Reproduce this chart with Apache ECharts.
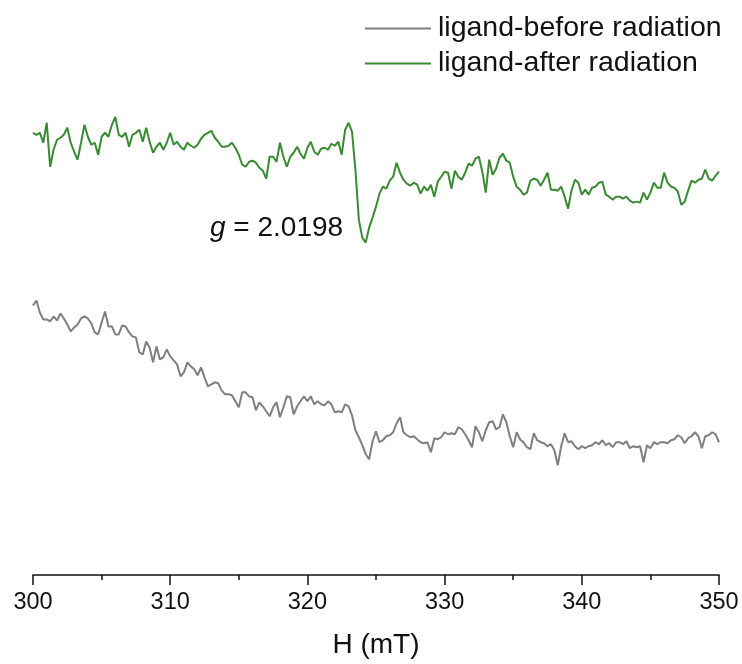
<!DOCTYPE html>
<html>
<head>
<meta charset="utf-8">
<script src="https://cdn.jsdelivr.net/npm/echarts@6/dist/echarts.min.js"></script>
<style>
html,body{margin:0;padding:0;background:#fff;}
#chart{width:742px;height:664px;}
</style>
</head>
<body>
<div id="chart"></div>
<script>
// Field sweep: 300 mT to 350 mT sampled every 0.25 mT
const H_START = 300;
const H_STEP = 0.25;
const xTicks = [300, 310, 320, 330, 340, 350];
const seriesNames = ['ligand-before radiation', 'ligand-after radiation'];

// EPR intensity (arbitrary units, offset traces)
const before = [
294,299,287,280,280,278,283,279,286,281,275,268,272,275,281,283,281,276,267,265,
277,288,273,273,265,265,274,273,267,263,262,247,245,258,252,237,253,240,242,250,
243,239,235,223,227,237,233,230,224,232,222,213,215,217,216,209,205,205,204,198,
192,207,207,203,202,189,197,193,188,183,192,197,182,192,203,202,185,193,198,203,
198,203,195,198,195,194,198,195,187,188,187,195,193,184,169,162,154,145,140,158,
168,157,159,163,164,167,176,182,167,164,162,163,160,157,156,157,147,161,160,162,
167,165,166,165,172,170,165,159,152,173,167,158,169,177,178,170,172,185,177,163,
152,167,160,157,152,150,166,159,157,156,153,155,149,134,153,166,157,158,153,150,
153,151,153,154,157,155,159,154,156,152,157,157,155,158,151,153,152,153,137,154,
151,157,155,157,157,156,159,160,164,162,156,161,163,167,163,151,163,164,167,165,
157
];
const after = [
467,465,467,457,477,433,450,460,462,465,472,457,448,440,457,475,463,455,457,445,
463,467,463,475,483,465,463,467,453,465,467,470,458,472,458,447,453,457,450,457,
467,455,458,453,450,457,454,452,455,461,465,467,469,462,458,453,453,454,457,452,
445,435,433,438,439,437,432,429,421,443,443,438,457,443,433,443,447,453,446,441,
452,458,448,445,451,452,450,456,454,458,445,470,477,468,430,380,362,357,372,382,
393,406,413,411,419,423,437,427,420,416,414,417,415,406,413,409,415,403,418,423,
428,427,411,429,423,420,427,436,434,441,443,428,407,440,425,431,442,446,439,437,
423,413,410,405,407,419,421,420,414,420,427,410,410,409,413,403,391,409,420,417,
405,410,405,412,413,417,418,405,403,400,403,403,401,403,399,397,398,397,407,400,
407,417,412,412,427,417,413,412,408,395,398,409,419,417,420,421,430,421,419,424,
428
];

function toPairs(arr) {
  return arr.map((v, i) => [H_START + i * H_STEP, v]);
}

const FONT = "'Liberation Sans', Arial, sans-serif";
const chart = echarts.init(document.getElementById('chart'), null, {renderer: 'canvas'});

chart.setOption({
  animation: false,
  backgroundColor: '#ffffff',
  grid: {left: 33, right: 23, top: 0, bottom: 88, containLabel: false},
  legend: {
    orient: 'vertical',
    left: 365,
    top: 14,
    padding: 0,
    itemWidth: 66,
    itemHeight: 2,
    itemGap: 6,
    icon: 'rect',
    data: seriesNames,
    textStyle: {fontFamily: FONT, fontSize: 28.5, color: '#111', padding: [0, 0, 0, 2]}
  },
  xAxis: {
    type: 'value',
    min: 300,
    max: 350,
    interval: 10,
    name: 'H (mT)',
    nameLocation: 'middle',
    nameGap: 56,
    nameTextStyle: {fontFamily: FONT, fontSize: 28, color: '#111'},
    axisLine: {show: true, onZero: false, lineStyle: {color: '#111', width: 1.5}},
    axisTick: {show: true, inside: false, length: 10, lineStyle: {color: '#111', width: 1.5}},
    minorTick: {show: true, splitNumber: 2, length: 5, lineStyle: {color: '#111', width: 1.5}},
    splitLine: {show: false},
    minorSplitLine: {show: false},
    axisLabel: {
      fontFamily: FONT, fontSize: 23.5, color: '#111', margin: 16,
      formatter: v => (xTicks.indexOf(v) >= 0 ? String(v) : '')
    }
  },
  yAxis: {
    type: 'value',
    min: 24,
    max: 600,
    show: false
  },
  series: [
    {
      name: seriesNames[0],
      type: 'line',
      data: toPairs(before),
      symbol: 'none',
      color: '#7f7f7f',
      lineStyle: {color: '#7f7f7f', width: 2}
    },
    {
      name: seriesNames[1],
      type: 'line',
      data: toPairs(after),
      symbol: 'none',
      color: '#3a8a33',
      lineStyle: {color: '#3a8a33', width: 2}
    }
  ],
  graphic: [
    {
      type: 'text',
      left: 210,
      top: 214,
      style: {
        text: '{i|g} = 2.0198',
        rich: {
          i: {fontStyle: 'italic', fontFamily: FONT, fontSize: 28, fill: '#111'}
        },
        fontFamily: FONT,
        fontSize: 28,
        fill: '#111'
      }
    }
  ]
});
</script>
</body>
</html>
